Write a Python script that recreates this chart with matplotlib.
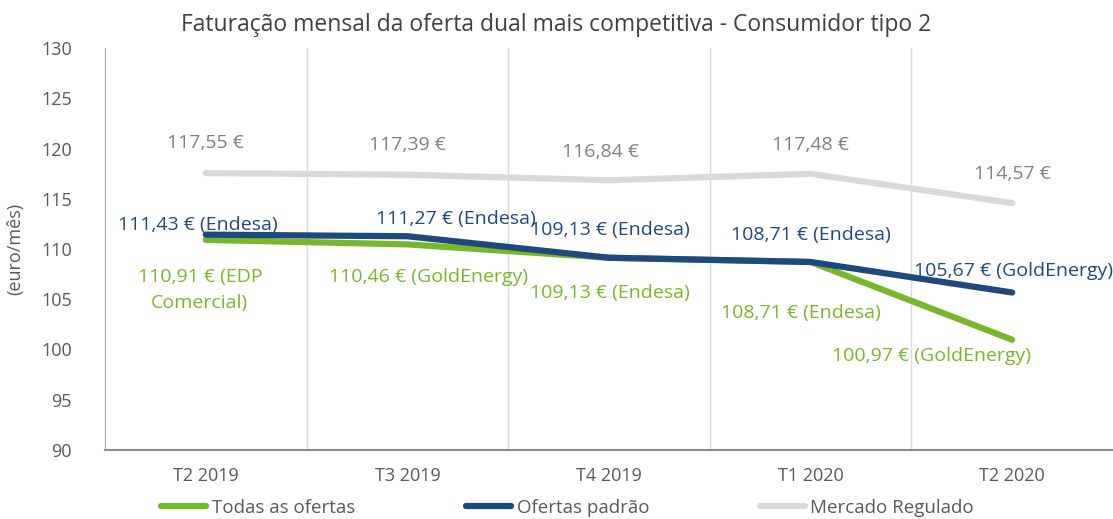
import matplotlib.pyplot as plt

# data
periodos = ["T2 2019", "T3 2019", "T4 2019", "T1 2020", "T2 2020"]
todas = [110.91, 110.46, 109.13, 108.71, 100.97]
padrao = [111.43, 111.27, 109.13, 108.71, 105.67]
regulado = [117.55, 117.39, 116.84, 117.48, 114.57]

todas_lbl = ["110,91 € (EDP\nComercial)", "110,46 € (GoldEnergy)", "109,13 € (Endesa)",
             "108,71 € (Endesa)", "100,97 € (GoldEnergy)"]
padrao_lbl = ["111,43 € (Endesa)", "111,27 € (Endesa)", "109,13 € (Endesa)",
              "108,71 € (Endesa)", "105,67 € (GoldEnergy)"]
regulado_lbl = ["117,55 €", "117,39 €", "116,84 €", "117,48 €", "114,57 €"]

plt.rcParams['font.family'] = ['Open Sans', 'DejaVu Sans']

GREEN = "#78B72A"
NAVY = "#1F497D"
LGRAY = "#D9D9D9"
TGRAY = "#808080"

fig = plt.figure(figsize=(11.13, 5.19), dpi=100)
ax = fig.add_axes([105/1113, 69/519, 1008/1113, 402/519])

x = list(range(len(periodos)))
ax.plot(x, regulado, color=LGRAY, lw=4.5, solid_capstyle='round', label="Mercado Regulado", zorder=2)
ax.plot(x, todas, color=GREEN, lw=4.5, solid_capstyle='round', label="Todas as ofertas", zorder=3)
ax.plot(x, padrao, color=NAVY, lw=4.5, solid_capstyle='round', label="Ofertas padrão", zorder=4)

ax.set_xlim(-0.5, 4.5)
ax.set_ylim(90, 130)
ax.set_yticks(range(90, 131, 5))
ax.set_xticks(x)
ax.set_xticklabels(periodos)
for b in [0.5, 1.5, 2.5, 3.5]:
    ax.axvline(b, color="#D9D9D9", lw=1, zorder=1)

for s in ['top', 'right']:
    ax.spines[s].set_visible(False)
ax.spines['left'].set_color("#A6A6A6")
ax.spines['bottom'].set_color("#8C8C8C")
ax.spines['bottom'].set_linewidth(1.5)
ax.tick_params(length=0, labelsize=13, colors="#595959")
ax.tick_params(axis='y', pad=24)
ax.tick_params(axis='x', pad=12)

ax.set_ylabel("(euro/mês)", fontsize=13, color="#595959", labelpad=12)
fig.text(0.5, 0.952, "Faturação mensal da oferta dual mais competitiva - Consumidor tipo 2",
         ha='center', va='center', fontsize=16.5, color="#404040")

# label offsets in pixels
reg_off = [(0, 30), (0, 30), (-8, 28), (0, 29), (0, 29)]
pad_off = [(-8, 10), (48, 17), (1, 28), (0, 27), (1, 22)]
tod_off = [(-6, -50), (21, -33), (1, -35), (-10, -51), (-81, -16)]

for i in x:
    ax.annotate(regulado_lbl[i], (i, regulado[i]), xytext=reg_off[i], textcoords='offset pixels',
                ha='center', va='center', fontsize=14, color=TGRAY)
    ax.annotate(padrao_lbl[i], (i, padrao[i]), xytext=pad_off[i], textcoords='offset pixels',
                ha='center', va='center', fontsize=14, color=NAVY)
    ax.annotate(todas_lbl[i], (i, todas[i]), xytext=tod_off[i], textcoords='offset pixels',
                ha='center', va='center', fontsize=14, color=GREEN, linespacing=1.6)

h, l = ax.get_legend_handles_labels()
order = [1, 2, 0]
fig.legend([h[k] for k in order], [l[k] for k in order], loc='center', bbox_to_anchor=(0.51, 0.022),
           ncol=3, frameon=False, fontsize=13.5, labelcolor="#595959", handlelength=2.4,
           handletextpad=0.3, columnspacing=5.9)

fig.savefig("out.png", dpi=100)
